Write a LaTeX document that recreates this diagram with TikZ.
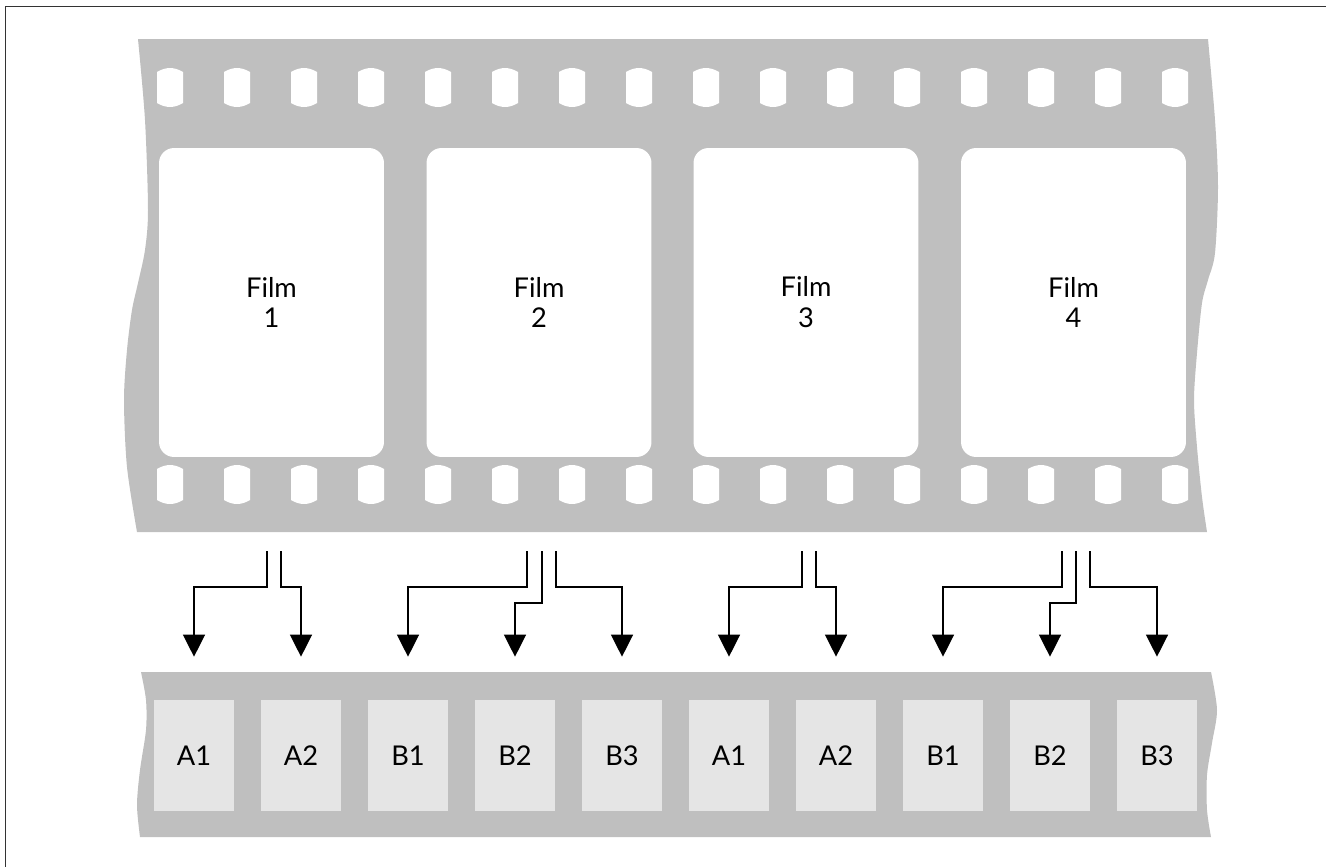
\documentclass[tikz,border=0pt]{standalone}
\usepackage{fontspec}
\setmainfont{Lato}
\usetikzlibrary{arrows.meta}
\begin{document}
\begin{tikzpicture}[x=0.02cm,y=-0.02cm,
  strip/.style={fill=black!25},
  filmbox/.style={fill=white, rounded corners=0.3cm, minimum width=4.5cm, minimum height=6.18cm, inner sep=0pt, align=center, font=\fontsize{15.5}{17.6}\selectfont},
  slotbox/.style={fill=black!10, minimum width=1.6cm, minimum height=2.22cm, inner sep=0pt, font=\fontsize{15.5}{17.6}\selectfont},
  flow/.style={draw=black, line width=0.75pt, -{Triangle[width=0.44cm,length=0.44cm]}, shorten >=0.86cm}]
\useasboundingbox (0,0) rectangle (1326,866);
\draw[black!80, line width=0.9pt] (5.5,900) -- (5.5,6.5) -- (1400,6.5);
\fill[strip] (138,39) -- (1208,39) -- plot[smooth] coordinates {(1208,39) (1215,120) (1218,187) (1215,253) (1208,280) (1202,303) (1197,353) (1194,400) (1197,447) (1202,497) (1207,532)} -- (137,532) -- plot[smooth] coordinates {(137,532) (127,467) (124,400) (127,350) (132,310) (138,283) (145,250) (148,210) (145,120) (138,39)} -- cycle;
\foreach \i in {0,...,15} \foreach \t in {68,465} {
  \fill[white] ({157+67*\i},{\t+4}) -- ({157+67*\i},{\t+35}) .. controls ({165.7+67*\i},{\t+40.3}) and ({174.3+67*\i},{\t+40.3}) .. ({183+67*\i},{\t+35}) -- ({183+67*\i},{\t+4}) .. controls ({174.3+67*\i},{\t-1.3}) and ({165.7+67*\i},{\t-1.3}) .. ({157+67*\i},{\t+4}) -- cycle;
}
\fill[strip] (141,672) -- (1211,672) -- plot[smooth] coordinates {(1211,672) (1217,710) (1212,743) (1207,775) (1207,810) (1211,837)} -- (140,837) -- plot[smooth] coordinates {(140,837) (137,805) (140,770) (146,730) (146,700) (141,672)} -- cycle;
\node[filmbox] (film1) at (271.5,302.5) {Film\\1};
\node[filmbox] (film2) at (539,302.5) {Film\\2};
\node[filmbox] (film3) at (806,302.5) {Film\\3};
\node[filmbox] (film4) at (1073.5,302.5) {Film\\4};
\node[slotbox] (slot1) at (194,755.5) {A1};
\node[slotbox] (slot2) at (301,755.5) {A2};
\node[slotbox] (slot3) at (408,755.5) {B1};
\node[slotbox] (slot4) at (515,755.5) {B2};
\node[slotbox] (slot5) at (622,755.5) {B3};
\node[slotbox] (slot6) at (729,755.5) {A1};
\node[slotbox] (slot7) at (836,755.5) {A2};
\node[slotbox] (slot8) at (943,755.5) {B1};
\node[slotbox] (slot9) at (1050,755.5) {B2};
\node[slotbox] (slot10) at (1157,755.5) {B3};
\coordinate (o1a) at (267,551);
\coordinate (o1b) at (281,551);
\coordinate (o2a) at (527,551);
\coordinate (o2b) at (542,551);
\coordinate (o2c) at (556,551);
\coordinate (o3a) at (802,551);
\coordinate (o3b) at (816,551);
\coordinate (o4a) at (1062,551);
\coordinate (o4b) at (1076,551);
\coordinate (o4c) at (1090,551);
\draw[flow] (o1a) -- ++(0,36) -| (slot1.north);
\draw[flow] (o1b) -- ++(0,36) -| (slot2.north);
\draw[flow] (o2a) -- ++(0,36) -| (slot3.north);
\draw[flow] (o2b) -- ++(0,52) -| (slot4.north);
\draw[flow] (o2c) -- ++(0,36) -| (slot5.north);
\draw[flow] (o3a) -- ++(0,36) -| (slot6.north);
\draw[flow] (o3b) -- ++(0,36) -| (slot7.north);
\draw[flow] (o4a) -- ++(0,36) -| (slot8.north);
\draw[flow] (o4b) -- ++(0,52) -| (slot9.north);
\draw[flow] (o4c) -- ++(0,36) -| (slot10.north);
\end{tikzpicture}
\end{document}
